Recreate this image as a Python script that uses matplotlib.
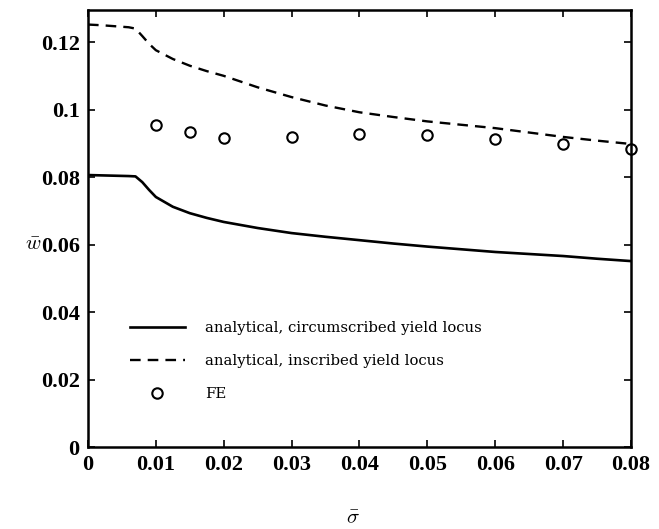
import numpy as np
import matplotlib
matplotlib.use("Agg")
import matplotlib.pyplot as plt

plt.rcParams['mathtext.fontset'] = 'cm'

# analytical curves
sig_line = [0.0, 0.002, 0.004, 0.006, 0.007, 0.008, 0.009, 0.010, 0.0125, 0.015, 0.0175,
            0.020, 0.025, 0.030, 0.035, 0.040, 0.045, 0.050, 0.055, 0.060, 0.065, 0.070, 0.075, 0.080]
w_circ = [0.0806, 0.0805, 0.0804, 0.0803, 0.0802, 0.0785, 0.0762, 0.0741, 0.0712, 0.0693, 0.0679,
          0.0667, 0.0649, 0.0634, 0.0623, 0.0613, 0.0603, 0.0594, 0.0586, 0.0578, 0.0572, 0.0566, 0.0558, 0.0551]
w_insc = [0.1252, 0.1250, 0.1247, 0.1244, 0.1240, 0.1218, 0.1195, 0.1176, 0.1150, 0.1130, 0.1114,
          0.1100, 0.1066, 0.1037, 0.1012, 0.0992, 0.0978, 0.0965, 0.0955, 0.0945, 0.0932, 0.0919, 0.0908, 0.0898]

# FE results
sig_fe = [0.010, 0.015, 0.020, 0.030, 0.040, 0.050, 0.060, 0.070, 0.080]
w_fe = [0.0954, 0.0933, 0.0916, 0.0919, 0.0927, 0.0926, 0.0913, 0.0898, 0.0883]

xticks = [0, 0.01, 0.02, 0.03, 0.04, 0.05, 0.06, 0.07, 0.08]
xticklabels = ['0', '0.01', '0.02', '0.03', '0.04', '0.05', '0.06', '0.07', '0.08']
yticks = [0, 0.02, 0.04, 0.06, 0.08, 0.1, 0.12]
yticklabels = ['0', '0.02', '0.04', '0.06', '0.08', '0.1', '0.12']

fig = plt.figure(figsize=(6.59, 5.29), dpi=100, facecolor='white')
ax = fig.add_axes([0.1335, 0.155, 0.824, 0.826])

ax.plot(sig_line, w_circ, color='black', lw=1.9, label='analytical, circumscribed yield locus')
ax.plot(sig_line, w_insc, color='black', lw=1.7, dashes=(4.5, 3.0),
        label='analytical, inscribed yield locus')
ax.plot(sig_fe, w_fe, 'o', color='black', mfc='none', mew=1.5, ms=7.5, label='FE', clip_on=False)

ax.set_xlim(0, 0.08)
ax.set_ylim(0, 0.1295)
ax.set_xticks(xticks)
ax.set_xticklabels(xticklabels)
ax.set_yticks(yticks)
ax.set_yticklabels(yticklabels)

for s in ax.spines.values():
    s.set_linewidth(1.8)
ax.tick_params(direction='in', length=5, width=1.2, top=True, right=True, pad=6)
for lab in ax.get_xticklabels() + ax.get_yticklabels():
    lab.set_family('Liberation Serif')
    lab.set_fontweight('bold')
    lab.set_fontsize(16)

leg = ax.legend(loc='upper left', bbox_to_anchor=(0.077, 0.289), frameon=False,
                borderpad=0, borderaxespad=0, handlelength=3.7, handletextpad=1.35,
                labelspacing=1.3, prop={'family': 'DejaVu Serif', 'size': 10.7})

fig.text(0.05, 0.538, r'$\bar{w}$', fontsize=15, ha='center', va='center')
fig.text(0.536, 0.022, r'$\bar{\sigma}$', fontsize=15, ha='center', va='center')

fig.savefig('out.png', dpi=100)
